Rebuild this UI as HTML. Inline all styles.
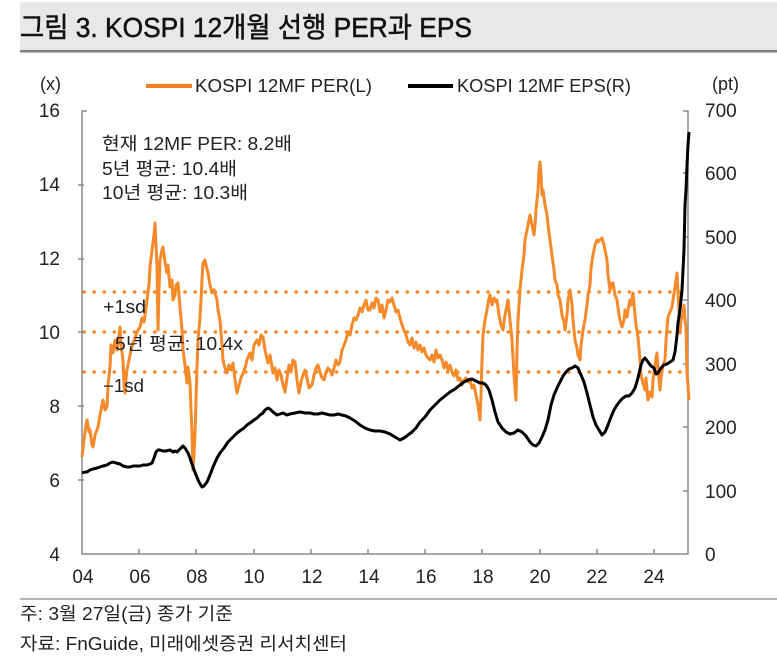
<!DOCTYPE html>
<html><head><meta charset="utf-8"><style>
html,body{margin:0;padding:0;background:#fff;}
svg{display:block;}
text{font-family:"Liberation Sans","Noto Sans CJK KR","NanumGothic",sans-serif;fill:#222;}
</style></head><body>
<svg width="777" height="658" viewBox="0 0 777 658" xmlns="http://www.w3.org/2000/svg">
<rect x="0" y="0" width="777" height="658" fill="#fff"/>
<!-- title band -->
<rect x="20" y="2" width="757" height="48" fill="#e8e8e8"/>
<rect x="20" y="50" width="757" height="2.5" fill="#808080"/>
<text x="20" y="37" font-size="28" textLength="452" lengthAdjust="spacingAndGlyphs" style="fill:#111;stroke:#111;stroke-width:0.5">그림 3. KOSPI 12개월 선행 PER과 EPS</text>

<!-- legend -->
<line x1="146" y1="86" x2="192" y2="86" stroke="#F5801F" stroke-width="4"/>
<text x="195" y="92" font-size="18" textLength="177" lengthAdjust="spacingAndGlyphs">KOSPI 12MF PER(L)</text>
<line x1="408" y1="86" x2="453" y2="86" stroke="#000" stroke-width="4"/>
<text x="457" y="92" font-size="18" textLength="174" lengthAdjust="spacingAndGlyphs">KOSPI 12MF EPS(R)</text>

<!-- axis unit labels -->
<text x="40" y="90" font-size="18">(x)</text>
<text x="712" y="90" font-size="18">(pt)</text>

<!-- dotted lines -->
<g stroke="#F58A2A" stroke-width="3.6" stroke-linecap="round" stroke-dasharray="0.1 10">
<line x1="84" y1="292" x2="688" y2="292"/>
<line x1="84" y1="332" x2="688" y2="332"/>
<line x1="84" y1="372" x2="688" y2="372"/>
</g>

<!-- axes -->
<g stroke="#8a8a8a" stroke-width="1.5" fill="none">
<polyline points="87,111 82,111 82,554 688,554 688,111 683,111"/>
<line x1="78" y1="185" x2="84" y2="185"/>
<line x1="78" y1="259" x2="84" y2="259"/>
<line x1="78" y1="332" x2="84" y2="332"/>
<line x1="78" y1="406" x2="84" y2="406"/>
<line x1="78" y1="480" x2="84" y2="480"/>
<line x1="683" y1="173" x2="688" y2="173"/>
<line x1="683" y1="237" x2="688" y2="237"/>
<line x1="683" y1="300" x2="688" y2="300"/>
<line x1="683" y1="364" x2="688" y2="364"/>
<line x1="683" y1="427" x2="688" y2="427"/>
<line x1="683" y1="491" x2="688" y2="491"/>
<line x1="139" y1="549" x2="139" y2="554"/>
<line x1="196" y1="549" x2="196" y2="554"/>
<line x1="254" y1="549" x2="254" y2="554"/>
<line x1="311" y1="549" x2="311" y2="554"/>
<line x1="368" y1="549" x2="368" y2="554"/>
<line x1="425" y1="549" x2="425" y2="554"/>
<line x1="482" y1="549" x2="482" y2="554"/>
<line x1="540" y1="549" x2="540" y2="554"/>
<line x1="597" y1="549" x2="597" y2="554"/>
<line x1="654" y1="549" x2="654" y2="554"/>
</g>

<!-- left labels -->
<g font-size="19" text-anchor="end">
<text x="60" y="117">16</text>
<text x="60" y="191">14</text>
<text x="60" y="265">12</text>
<text x="60" y="339">10</text>
<text x="60" y="413">8</text>
<text x="60" y="487">6</text>
<text x="60" y="561">4</text>
</g>
<!-- right labels -->
<g font-size="19">
<text x="705" y="117">700</text>
<text x="705" y="180">600</text>
<text x="705" y="244">500</text>
<text x="705" y="307">400</text>
<text x="705" y="371">300</text>
<text x="705" y="434">200</text>
<text x="705" y="498">100</text>
<text x="705" y="561">0</text>
</g>
<!-- x labels -->
<g font-size="19" text-anchor="middle">
<text x="83" y="583">04</text>
<text x="140" y="583">06</text>
<text x="197" y="583">08</text>
<text x="254" y="583">10</text>
<text x="312" y="583">12</text>
<text x="369" y="583">14</text>
<text x="426" y="583">16</text>
<text x="483" y="583">18</text>
<text x="540" y="583">20</text>
<text x="597" y="583">22</text>
<text x="654" y="583">24</text>
</g>

<!-- PER series -->
<polyline fill="none" stroke="#F58A2A" stroke-width="3" stroke-linejoin="round" points="82,457 84,440 86,425 87,420 89,432 90,430 92,445 93,447 95,435 97,430 98,427 100,415 102,405 103,400 105,410 107,407 108,385 110,367 111,345 113,353 115,340 117,350 119,335 120,327 121,345 123,360 124,385 125,393 126,378 127,370 129,360 131,350 133,343 135,338 137,332 140,327 142,318 144,322 147,300 149,285 150,267 152,250 154,235 155,223 156,245 157,267 158,330 159,290 160,260 162,250 163,247 165,262 167,273 168,265 170,287 172,280 173,300 175,295 176,285 178,283 179,295 180,307 182,330 183,350 185,365 187,383 188,367 190,383 191,410 192,433 193,470 194,455 195,433 196,400 197,367 198,340 200,317 201,300 202,280 203,263 205,260 206,265 208,273 210,285 212,293 214,290 217,300 218,310 220,320 222,345 223,360 225,368 227,373 229,365 231,370 233,363 235,380 237,393 239,385 241,378 243,373 245,368 247,360 250,353 252,360 254,345 257,340 259,345 261,335 263,337 265,350 268,363 270,355 273,373 275,368 277,380 279,370 281,375 283,385 285,392 287,378 289,365 291,372 293,360 295,362 297,380 299,393 301,382 303,375 305,370 307,378 309,388 312,385 314,375 316,368 318,365 320,372 322,378 324,380 326,372 328,368 330,370 332,375 334,368 336,360 338,365 340,362 342,350 344,345 346,340 348,332 350,335 352,325 354,318 356,320 358,315 360,308 362,312 364,305 366,300 368,310 370,310 372,303 374,308 376,298 378,300 380,312 382,305 384,318 386,310 388,300 390,302 392,298 394,305 396,312 398,310 400,318 402,325 404,330 406,335 408,342 410,345 412,338 414,348 416,342 418,350 420,345 422,352 424,348 426,355 428,358 430,360 432,355 434,362 436,350 438,358 440,355 442,360 444,368 446,362 448,370 450,365 452,372 454,376 456,370 458,380 460,378 462,385 464,380 466,378 468,382 470,380 472,388 474,385 476,395 478,405 480,420 481,395 482,360 483,335 485,320 487,310 489,298 490,295 492,305 494,298 496,302 497,300 499,315 501,325 503,330 505,315 507,305 508,300 510,320 512,340 514,375 516,400 517,350 518,320 520,290 522,270 524,255 525,240 527,230 528,225 530,215 532,225 534,235 535,225 536,210 538,190 539,170 540,162 541,175 542,195 543,190 545,205 547,215 548,225 550,240 552,255 554,270 555,280 557,285 558,295 560,300 562,315 564,322 565,330 567,315 568,300 570,290 572,305 573,320 575,340 577,348 578,355 580,360 581,345 583,330 585,320 587,305 588,295 590,285 591,268 593,255 595,245 597,240 598,242 600,240 602,238 604,245 605,250 607,260 608,275 610,290 612,283 613,283 615,295 617,300 619,315 620,320 622,327 624,320 625,310 627,317 628,310 630,300 631,305 633,293 635,315 636,325 638,337 640,360 641,375 643,383 645,390 646,378 647,390 648,400 650,392 652,397 653,380 655,365 657,353 658,370 660,390 661,378 663,365 665,360 666,340 668,317 670,312 672,307 673,300 675,287 676,280 677,273 678,293 679,310 680,333 681,320 683,313 684,305 685,320 686,327 687,373 688,385 689,400"/>

<!-- EPS series -->
<polyline fill="none" stroke="#000" stroke-width="3" stroke-linejoin="round" points="82,473 85,472 87,472 90,470 93,469 97,468 100,467 103,466 107,465 110,463 113,462 116,463 120,464 123,466 127,467 130,467 133,466 137,466 140,466 143,465 147,465 150,464 152,463 154,458 156,452 158,450 160,450 163,451 166,451 170,450 173,452 175,451 177,452 180,449 183,446 185,448 188,453 190,458 193,467 196,475 199,482 202,487 204,486 207,482 210,475 213,467 217,458 220,453 224,448 228,442 233,437 237,433 241,430 244,428 247,425 250,423 254,420 257,418 260,415 263,413 265,410 268,408 270,409 273,412 277,415 280,414 283,413 287,415 290,414 295,413 300,412 305,413 310,413 314,414 318,414 322,413 326,414 330,415 334,415 338,414 342,415 346,416 350,418 355,421 360,425 365,428 370,430 375,431 380,431 385,432 390,434 395,437 400,440 404,438 408,435 412,432 416,428 420,422 425,417 430,410 435,405 440,400 445,396 450,392 455,389 460,385 464,382 468,380 472,379 476,381 480,383 483,383 486,385 489,390 492,400 495,412 498,422 502,428 506,432 510,434 514,433 518,430 522,432 526,436 530,442 533,445 536,446 539,443 542,437 545,430 548,420 551,405 554,395 557,388 560,382 563,376 566,372 569,369 572,368 575,366 578,368 581,375 584,382 587,393 590,405 593,417 596,425 599,430 602,435 605,432 608,425 611,417 614,410 617,405 620,401 623,398 626,396 629,396 632,393 635,388 638,378 641,365 643,360 645,358 648,362 651,366 654,368 656,374 658,373 661,368 664,365 667,364 670,362 673,360 675,352 677,335 678,323 680,310 682,290 684,250 685,205 686,190 687,165 688,145 689,132"/>

<!-- annotations -->
<g font-size="18">
<text x="102" y="150" textLength="190" lengthAdjust="spacingAndGlyphs">현재 12MF PER: 8.2배</text>
<text x="102" y="175" textLength="135" lengthAdjust="spacingAndGlyphs">5년 평균: 10.4배</text>
<text x="102" y="199" textLength="146" lengthAdjust="spacingAndGlyphs">10년 평균: 10.3배</text>
<text x="103" y="313" textLength="43" lengthAdjust="spacingAndGlyphs">+1sd</text>
<text x="115" y="350" textLength="128" lengthAdjust="spacingAndGlyphs">5년 평균: 10.4x</text>
<text x="103" y="392" textLength="41" lengthAdjust="spacingAndGlyphs">−1sd</text>
</g>

<!-- footer -->
<line x1="20" y1="599" x2="777" y2="599" stroke="#999" stroke-width="1.5"/>
<text x="20" y="620" font-size="18" textLength="213" lengthAdjust="spacingAndGlyphs">주: 3월 27일(금) 종가 기준</text>
<text x="20" y="650" font-size="18" textLength="327" lengthAdjust="spacingAndGlyphs">자료: FnGuide, 미래에셋증권 리서치센터</text>
</svg>
</body></html>
